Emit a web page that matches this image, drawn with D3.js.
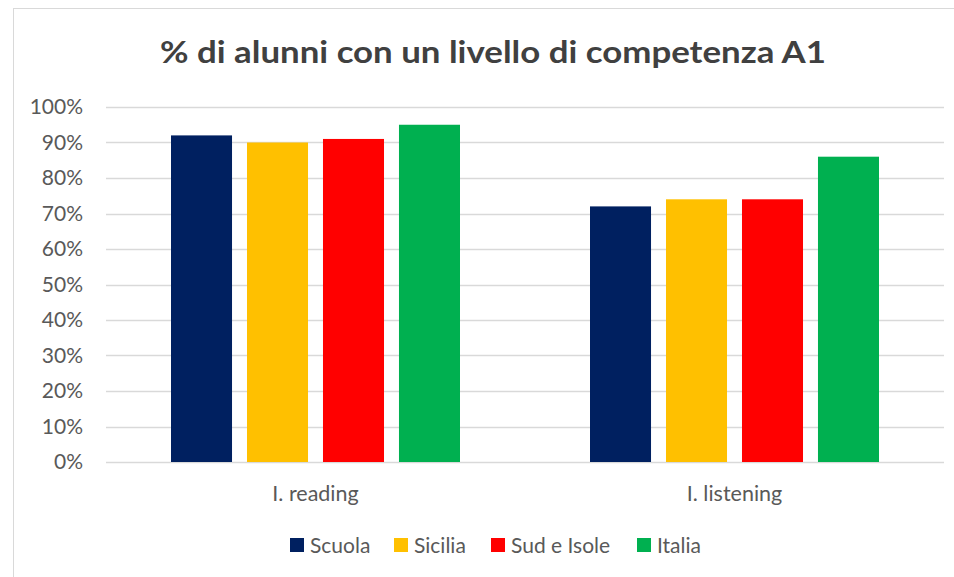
<!DOCTYPE html>
<html>
<head>
<meta charset="utf-8">
<script src="https://cdn.jsdelivr.net/npm/d3@7"></script>
<style>
  body { margin: 0; background: #fff; }
  svg { display: block; font-family: Lato, "Open Sans", sans-serif; }
</style>
</head>
<body>
<div id="chart"></div>
<script>
// data
const categories = ['I. reading', 'I. listening'];
const series = ['Scuola', 'Sicilia', 'Sud e Isole', 'Italia'];
const colors = ['#002060', '#FFC000', '#FF0000', '#00B050'];
const values = {
    'Scuola':      [92, 72],
    'Sicilia':     [90, 74],
    'Sud e Isole': [91, 74],
    'Italia':      [95, 86]
};
const yTicks = [0, 10, 20, 30, 40, 50, 60, 70, 80, 90, 100];

const width = 954, height = 577;
const margin = { top: 107, right: 10, bottom: 115, left: 106 };
const plotW = width - margin.left - margin.right;
const plotH = height - margin.top - margin.bottom;

const svg = d3.select('#chart').append('svg')
    .attr('width', width)
    .attr('height', height);

// chart frame
svg.append('rect')
    .attr('x', 13.5).attr('y', 8.5)
    .attr('width', 960).attr('height', 600)
    .attr('fill', '#fff')
    .attr('stroke', '#d9d9d9');

svg.append('text')
    .attr('x', 493).attr('y', 63)
    .attr('text-anchor', 'middle')
    .attr('font-size', 31)
    .attr('font-weight', 'bold')
    .attr('fill', '#404040')
    .attr('textLength', 666)
    .attr('lengthAdjust', 'spacingAndGlyphs')
    .text('% di alunni con un livello di competenza A1');

const g = svg.append('g')
    .attr('transform', `translate(${margin.left},${margin.top})`);

const x0 = d3.scaleBand().domain(categories).range([0, plotW]);
const x1 = d3.scaleBand().domain(series)
    .range([65, x0.bandwidth() - 65])
    .paddingInner(0.197);
const y = d3.scaleLinear().domain([0, 100]).range([plotH, 0]);

// gridlines
g.selectAll('.grid')
    .data(yTicks)
    .enter()
    .append('line')
    .attr('class', 'grid')
    .attr('x1', 0).attr('x2', plotW)
    .attr('y1', d => Math.round(y(d)) + 0.5)
    .attr('y2', d => Math.round(y(d)) + 0.5)
    .attr('stroke', '#d9d9d9')
    .attr('stroke-width', 1.3);

// y labels
g.selectAll('.ylab')
    .data(yTicks)
    .enter()
    .append('text')
    .attr('x', -23)
    .attr('y', d => y(d))
    .attr('dy', '0.35em')
    .attr('text-anchor', 'end')
    .attr('font-size', 21)
    .attr('fill', '#595959')
    .text(d => d + '%');

// bars
const groups = g.selectAll('.grp')
    .data(categories)
    .enter()
    .append('g')
    .attr('transform', d => `translate(${x0(d)},0)`);

groups.selectAll('rect')
    .data((c, i) => series.map((s, k) => ({ s, k, v: values[s][i] })))
    .enter()
    .append('rect')
    .attr('x', d => x1(d.s))
    .attr('y', d => y(d.v))
    .attr('width', x1.bandwidth())
    .attr('height', d => plotH - y(d.v))
    .attr('fill', d => colors[d.k]);

// category labels
g.selectAll('.xlab')
    .data(categories)
    .enter()
    .append('text')
    .attr('x', d => x0(d) + x0.bandwidth() / 2)
    .attr('y', plotH + 39)
    .attr('text-anchor', 'middle')
    .attr('font-size', 21.5)
    .attr('fill', '#595959')
    .text(d => d);

// legend
const legendX = [290, 394, 491, 637];
const legend = svg.selectAll('.leg')
    .data(series)
    .enter()
    .append('g')
    .attr('transform', (d, i) => `translate(${legendX[i]},538)`);

legend.append('rect')
    .attr('width', 14).attr('height', 14)
    .attr('fill', (d, i) => colors[i]);

legend.append('text')
    .attr('x', 20).attr('y', 15)
    .attr('font-size', 21)
    .attr('fill', '#595959')
    .text(d => d);
</script>
</body>
</html>
